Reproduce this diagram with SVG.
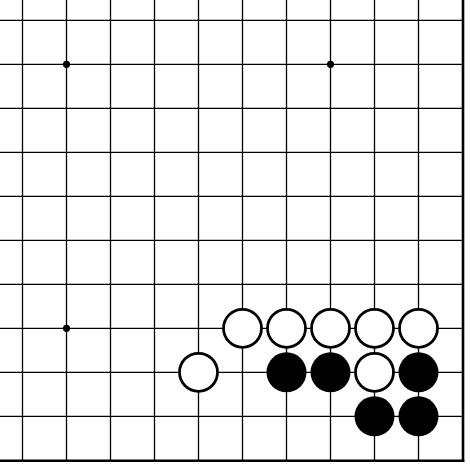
<svg xmlns="http://www.w3.org/2000/svg" width="470" height="468" viewBox="0 0 470 468">
<style>
.grid line{stroke:#000;stroke-width:1.3}
.edge{stroke:#000;stroke-width:2.6}
.star{fill:#000}
.w{fill:#fff;stroke:#000;stroke-width:2.8}
.b{fill:#000}
</style>
<rect width="470" height="468" fill="#fff"/>
<g id="board">
<g class="grid">
<line x1="22.5" y1="0" x2="22.5" y2="460"/>
<line x1="66.5" y1="0" x2="66.5" y2="460"/>
<line x1="110.5" y1="0" x2="110.5" y2="460"/>
<line x1="154.5" y1="0" x2="154.5" y2="460"/>
<line x1="198.5" y1="0" x2="198.5" y2="460"/>
<line x1="242.5" y1="0" x2="242.5" y2="460"/>
<line x1="286.5" y1="0" x2="286.5" y2="460"/>
<line x1="330.5" y1="0" x2="330.5" y2="460"/>
<line x1="374.5" y1="0" x2="374.5" y2="460"/>
<line x1="418.5" y1="0" x2="418.5" y2="460"/>
<line x1="0" y1="20.3" x2="462" y2="20.3"/>
<line x1="0" y1="64.3" x2="462" y2="64.3"/>
<line x1="0" y1="108.3" x2="462" y2="108.3"/>
<line x1="0" y1="152.3" x2="462" y2="152.3"/>
<line x1="0" y1="196.3" x2="462" y2="196.3"/>
<line x1="0" y1="240.3" x2="462" y2="240.3"/>
<line x1="0" y1="284.3" x2="462" y2="284.3"/>
<line x1="0" y1="328.3" x2="462" y2="328.3"/>
<line x1="0" y1="372.3" x2="462" y2="372.3"/>
<line x1="0" y1="416.3" x2="462" y2="416.3"/>
</g>
<line class="edge" x1="463" y1="0" x2="463" y2="462"/>
<line class="edge" x1="0" y1="460.8" x2="464.3" y2="460.8"/>
<circle class="star" cx="66.5" cy="64.3" r="3.6"/>
<circle class="star" cx="330.5" cy="64.3" r="3.6"/>
<circle class="star" cx="66.5" cy="328.3" r="3.6"/>
</g>
<g id="stones">
<circle class="w" cx="242.5" cy="328.3" r="19"/>
<circle class="w" cx="286.5" cy="328.3" r="19"/>
<circle class="w" cx="330.5" cy="328.3" r="19"/>
<circle class="w" cx="374.5" cy="328.3" r="19"/>
<circle class="w" cx="418.5" cy="328.3" r="19"/>
<circle class="w" cx="198.5" cy="372.3" r="19"/>
<circle class="b" cx="286.5" cy="372.3" r="20"/>
<circle class="b" cx="330.5" cy="372.3" r="20"/>
<circle class="w" cx="374.5" cy="372.3" r="19"/>
<circle class="b" cx="418.5" cy="372.3" r="20"/>
<circle class="b" cx="374.5" cy="416.3" r="20"/>
<circle class="b" cx="418.5" cy="416.3" r="20"/>
</g>
</svg>
